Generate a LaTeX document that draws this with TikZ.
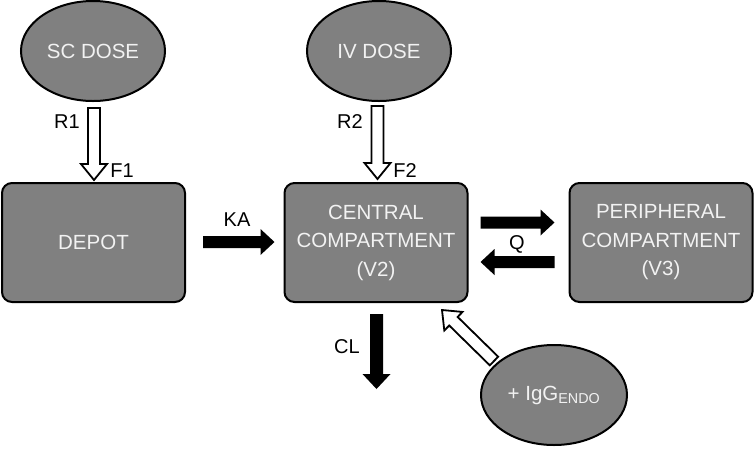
\documentclass[tikz,border=0pt]{standalone}
\usepackage{fontspec}
\setmainfont{Liberation Sans}
\usetikzlibrary{shapes.geometric,calc}
\definecolor{boxgray}{HTML}{808080}
\definecolor{txtgray}{HTML}{F2F2F2}
% #1 style, #2 start, #3 end, #4 shaft half width, #5 head half width, #6 head length
\newcommand{\fatarrow}[6]{%
  \coordinate (fas) at (#2);
  \coordinate (fae) at (#3);
  \coordinate (fah) at ($(fae)!#6!(fas)$);
  \draw[#1] ($(fas)!#4!90:(fae)$) -- ($(fah)!#4!90:(fae)$) -- ($(fah)!#5!90:(fae)$)
    -- (fae) -- ($(fah)!#5!-90:(fae)$) -- ($(fah)!#4!-90:(fae)$) -- ($(fas)!#4!-90:(fae)$) -- cycle;
}
\tikzset{
  blob/.style={ellipse, draw=black, line width=2pt, fill=boxgray, text=txtgray,
    font=\fontsize{20.5}{28.5}\selectfont, inner sep=0pt, minimum width=144pt, minimum height=100pt},
  comp/.style={rectangle, rounded corners=10pt, draw=black, line width=2pt, fill=boxgray,
    text=txtgray, font=\fontsize{20.5}{28.5}\selectfont, align=center, inner sep=0pt,
    minimum width=183pt, minimum height=119pt},
  lbl/.style={font=\fontsize{20}{24}\selectfont, text=black, inner sep=0pt},
  hollowarr/.style={draw=black, fill=white, line width=1.8pt, line join=miter},
  blackarr/.style={draw=none, fill=black},
}
\begin{document}
\begin{tikzpicture}[x=1pt,y=-1pt]
\useasboundingbox (0,0) rectangle (756,448);
% nodes
\node[blob] (sc) at (93,51) {SC DOSE};
\node[blob] (iv) at (379,51) {IV DOSE};
\node[comp] (depot) at (93.5,242.5) {DEPOT};
\node[comp] (central) at (376,242.5) {CENTRAL\\COMPARTMENT\\(V2)};
\node[comp] (periph) at (661,242.5) {PERIPHERAL\\COMPARTMENT\\(V3)};
\node[blob, minimum width=146pt] (igg) at (554,395) {+ IgG\textsubscript{ENDO}};
% arrow end points
\coordinate (r1a) at ($(sc.south)+(1,6)$);
\coordinate (r1b) at ($(depot.north)+(0.5,-2)$);
\coordinate (r2a) at ($(iv.south)+(-1.5,4)$);
\coordinate (r2b) at ($(central.north)+(1.5,-3)$);
\coordinate (kaa) at ($(depot.east)+(17,-0.5)$);
\coordinate (kab) at ($(central.west)+(-9,-0.5)$);
\coordinate (qta) at ($(central.east)+(12,-20)$);
\coordinate (qtb) at ($(periph.west)+(-14,-20)$);
\coordinate (qba) at ($(periph.west)+(-14,19.5)$);
\coordinate (qbb) at ($(central.east)+(12,19.5)$);
\coordinate (cla) at ($(central.south)+(0.5,11)$);
\coordinate (clb) at ($(central.south)+(0.5,86)$);
\coordinate (iga) at (494,361);
\coordinate (igb) at (442,310);
% arrows
\fatarrow{hollowarr}{r1a}{r1b}{6pt}{13pt}{16pt}
\fatarrow{hollowarr}{r2a}{r2b}{6pt}{13pt}{16pt}
\fatarrow{hollowarr}{iga}{igb}{6pt}{13pt}{16pt}
\fatarrow{blackarr}{kaa}{kab}{6pt}{13pt}{14pt}
\fatarrow{blackarr}{qta}{qtb}{6pt}{13pt}{14pt}
\fatarrow{blackarr}{qba}{qbb}{6pt}{13pt}{14pt}
\fatarrow{blackarr}{cla}{clb}{6.5pt}{14pt}{15pt}
% labels
\node[lbl] (lr1) at (67,122) {R1};
\node[lbl] (lf1) at (122,171) {F1};
\node[lbl] (lr2) at (350,122) {R2};
\node[lbl] (lf2) at (405,171) {F2};
\node[lbl] (lka) at (237,220) {KA};
\node[lbl] (lq) at (517,244) {Q};
\node[lbl] (lcl) at (347,347) {CL};
\end{tikzpicture}
\end{document}
